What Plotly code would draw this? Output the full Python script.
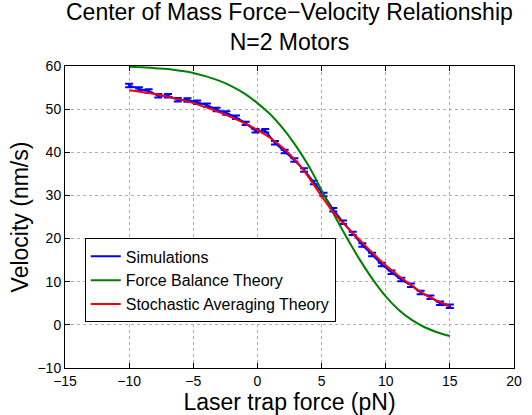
import plotly.graph_objects as go

# Laser trap force grid for the theory curves (pN)
force_theory = list(range(-10, 16))

# Stochastic averaging theory, velocity (nm/s)
v_stochastic = [54.4, 54.0, 53.5, 52.9, 52.2, 51.4, 50.4, 49.3, 48.1, 46.7,
                45.2, 43.3, 41.0, 38.0, 34.2, 29.8, 25.8, 22.6, 19.6, 16.6,
                13.8, 11.4, 9.2, 7.1, 5.6, 4.4]

# Force balance theory, velocity (nm/s)
v_force_balance = [59.8, 59.7, 59.5, 59.3, 58.9, 58.4, 57.6, 56.6, 55.3, 53.6,
                   51.4, 48.8, 45.5, 41.5, 36.8, 31.2, 25.4, 20.0, 15.0, 10.5,
                   6.6, 3.5, 1.2, -0.5, -1.7, -2.6]

# Simulation results: forces, mean velocities and their errors
force_sim = [-10.0, -9.242, -8.485, -7.727, -6.970, -6.212, -5.455, -4.697,
             -3.939, -3.182, -2.424, -1.667, -0.909, -0.152, 0.606, 1.364,
             2.121, 2.879, 3.636, 4.394, 5.152, 5.909, 6.667, 7.424, 8.182,
             8.939, 9.697, 10.455, 11.212, 11.970, 12.727, 13.485, 14.242, 15.0]
v_sim = [55.5, 54.7, 54.2, 53.1, 53.1, 52.2, 52.1, 51.6, 50.9, 49.9, 49.1,
         48.1, 46.7, 45.0, 45.0, 42.2, 40.2, 38.2, 35.9, 33.0, 30.2, 26.7,
         23.8, 21.2, 18.5, 16.3, 14.0, 12.2, 10.5, 9.2, 7.5, 6.4, 5.0, 4.3]
v_sim_err = [0.4] * len(v_sim)

x_ticks = [-15, -10, -5, 0, 5, 10, 15, 20]
y_ticks = [-10, 0, 10, 20, 30, 40, 50, 60]

font = "Liberation Sans, Arial, Helvetica, sans-serif"

fig = go.Figure()
fig.add_trace(go.Scatter(
    x=force_sim, y=v_sim, mode="lines", name="Simulations",
    line=dict(color="#0000ff", width=2),
    error_y=dict(type="data", array=v_sim_err, visible=True,
                 color="#0000ff", thickness=2, width=4),
))
fig.add_trace(go.Scatter(
    x=force_theory, y=v_force_balance, mode="lines", name="Force Balance Theory",
    line=dict(color="#008000", width=2, shape="spline"),
))
fig.add_trace(go.Scatter(
    x=force_theory, y=v_stochastic, mode="lines", name="Stochastic Averaging Theory",
    line=dict(color="#ff0000", width=2, shape="spline"),
))

axis_common = dict(
    showline=True, linecolor="black", linewidth=1, mirror="ticks",
    ticks="inside", ticklen=5, tickcolor="black",
    showgrid=True, gridcolor="#b0b0b0", griddash="dot", gridwidth=1,
    zeroline=False, tickfont=dict(size=14, color="black", family=font),
)

# Two-line title placed above the plotting area
fig.add_annotation(
    text="Center of Mass Force\u2212Velocity Relationship<br>N=2 Motors",
    xref="paper", yref="paper", x=0.5, y=1.0 + (66 - 26) / 306,
    xanchor="center", yanchor="middle", showarrow=False, align="center",
    font=dict(size=23, color="black", family=font),
)

fig.update_layout(
    width=532, height=415,
    margin=dict(l=65, r=10, t=66, b=43),
    paper_bgcolor="white", plot_bgcolor="white",
    font=dict(family=font, color="black"),
    xaxis=dict(axis_common, range=[-15, 20], tickvals=x_ticks,
               title=dict(text="Laser trap force (pN)", standoff=0,
                          font=dict(size=23, color="black", family=font))),
    yaxis=dict(axis_common, range=[-10, 60], tickvals=y_ticks,
               title=dict(text="Velocity (nm/s)", standoff=2,
                          font=dict(size=23, color="black", family=font))),
    legend=dict(
        x=0.044, y=0.429, xanchor="left", yanchor="top",
        bgcolor="white", bordercolor="black", borderwidth=1,
        font=dict(size=16, color="black", family=font),
        tracegroupgap=0, itemwidth=30,
    ),
    showlegend=True,
)

fig.write_html("out.html")
